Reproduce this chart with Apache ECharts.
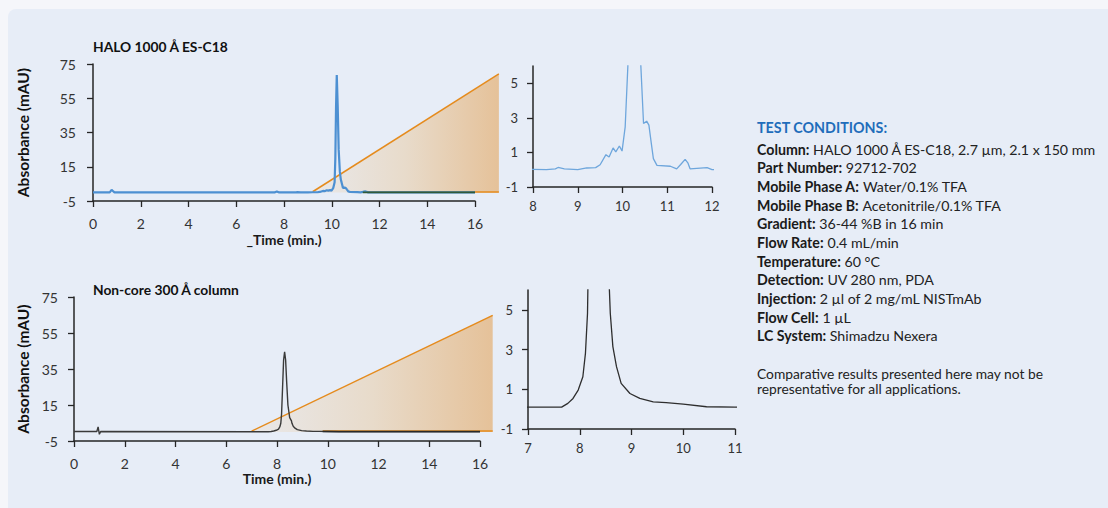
<!DOCTYPE html>
<html><head><meta charset="utf-8">
<script src="https://cdn.jsdelivr.net/npm/echarts@6/dist/echarts.min.js"></script>
<style>html,body{margin:0;padding:0;background:#f5f6fa;}#c{width:1108px;height:508px;}</style>
</head><body><div id="c"></div>
<script>
// ---------- data ----------
const topTime = [0, 0.7, 0.78, 0.82, 0.9, 7.6, 7.7, 7.8, 8.0, 8.3, 8.5, 8.56, 8.7, 9.0, 9.2, 9.4, 9.5, 9.63, 9.7, 9.79, 9.85, 9.93, 9.99, 10.06, 10.12, 10.15, 10.18, 10.21, 10.25, 10.29, 10.34, 10.38, 10.41, 10.47, 10.54, 10.59, 10.64, 10.69, 10.77, 11.07, 11.21, 11.3, 11.4, 11.46, 11.51, 11.89, 12.0, 16];
const topAbs  = [0, 0, 1.5, 1.0, 0, 0, 0.6, 0, 0.02, 0.0, 0.05, 0.13, 0.05, 0.0, 0.1, 0.12, 0.29, 0.87, 0.73, 1.26, 1.03, 1.37, 1.08, 2.48, 6, 20, 50, 68.6, 50, 25, 12, 7.5, 6, 2.67, 2.81, 2.58, 1.6, 0.64, 0.25, 0.2, 0.05, 0.3, 0.6, 0.4, 0.05, 0.12, 0.0, 0.0];

const bottomTime = [0, 0.9, 0.95, 0.98, 1.0, 1.05, 7.0, 7.65, 7.77, 7.87, 7.97, 8.06, 8.11, 8.15, 8.18, 8.22, 8.26, 8.3, 8.34, 8.38, 8.43, 8.5, 8.57, 8.59, 8.64, 8.71, 8.8, 8.97, 9.16, 9.42, 9.67, 10.0, 10.45, 11.0, 16];
const bottomAbs  = [0.3, 0.3, 2.8, 0.3, -1.3, 0.3, 0.1, 0.1, 0.29, 0.54, 0.96, 1.63, 2.81, 4.83, 10, 25, 40, 44.5, 40, 28, 15, 8, 6.2, 4.83, 3.15, 2.14, 1.3, 0.79, 0.54, 0.37, 0.33, 0.25, 0.12, 0.1, 0.1];

// gradient (%B) wedges
const topGradTime = [9.2, 17.0];
const topGradVal  = [0.4, 69.2];
const topEdgeTime = [11.3, 17.0];
const topEdgeVal  = [0.3, 0.3];
const topOverTime = [11.3, 16.0];
const topOverVal  = [0.0, 0.0];

const botGradTime = [7.0, 16.5];
const botGradVal  = [0.5, 64.8];
const botEdgeTime = [9.8, 16.5];
const botEdgeVal  = [0.6, 0.6];
const botOverTime = [9.8, 16.0];
const botOverVal  = [0.3, 0.3];

// ticks
const mainYTicks = [-5, 15, 35, 55, 75];
const mainXTicks = [0, 2, 4, 6, 8, 10, 12, 14, 16];
const insetYTicks = [-1, 1, 3, 5];
const topInsetXTicks = [8, 9, 10, 11, 12];
const botInsetXTicks = [7, 8, 9, 10, 11];

// texts
const topTitle = 'HALO 1000 Å ES-C18';
const bottomTitle = 'Non-core 300 Å column';
const yName = 'Absorbance (mAU)';
const topXName = '_Time (min.)';
const bottomXName = 'Time (min.)';
const condHeader = 'TEST CONDITIONS:';
const condLabels = ['Column:', 'Part Number:', 'Mobile Phase A:', 'Mobile Phase B:', 'Gradient:', 'Flow Rate:', 'Temperature:', 'Detection:', 'Injection:', 'Flow Cell:', 'LC System:'];
const condValues = ['HALO 1000 Å ES-C18, 2.7 µm, 2.1 x 150 mm', '92712-702', 'Water/0.1% TFA', 'Acetonitrile/0.1% TFA', '36-44 %B in 16 min', '0.4 mL/min', '60 °C', 'UV 280 nm, PDA', '2 µl of 2 mg/mL NISTmAb', '1 µL', 'Shimadzu Nexera'];
const noteLines = ['Comparative results presented here may not be', 'representative for all applications.'];

// ---------- chart ----------
const zip = (a, b) => a.map((v, i) => [v, b[i]]);
const FONT = 'Lato';
const AX = '#262626';

function xAx(gi, min, max, interval, ticks, margin, name, gap, fs) {
  return {
    type: 'value', gridIndex: gi, min, max, interval,
    axisLine: { show: true, onZero: false, lineStyle: { color: AX, width: 1.5 } },
    axisTick: { show: true, length: 6, customValues: ticks, lineStyle: { color: AX, width: 1.3 } },
    axisLabel: { margin, fontSize: fs || 14, color: '#333', fontFamily: FONT, customValues: ticks },
    splitLine: { show: false },
    name: name || '', nameLocation: 'middle', nameGap: gap || 0,
    nameTextStyle: { fontSize: 14, fontWeight: 'bold', color: '#1a1a1a', fontFamily: FONT }
  };
}
function yAx(gi, min, max, interval, ticks, margin, name, gap, fs) {
  return {
    type: 'value', gridIndex: gi, min, max, interval,
    axisLine: { show: true, onZero: false, lineStyle: { color: AX, width: 1.5 } },
    axisTick: { show: true, length: 6, customValues: ticks, lineStyle: { color: AX, width: 1.3 } },
    axisLabel: { margin, fontSize: fs || 14, color: '#333', fontFamily: FONT, customValues: ticks },
    splitLine: { show: false },
    name: name || '', nameLocation: 'middle', nameGap: gap || 0, nameRotate: 90,
    nameTextStyle: { fontSize: 15.5, fontWeight: 'bold', color: '#111', fontFamily: FONT }
  };
}
function hidden(gi, min, max) { return { type: 'value', gridIndex: gi, min, max, show: false }; }

const wedgeFill = {
  type: 'linear', x: 0, y: 0, x2: 1, y2: 0,
  colorStops: [
    { offset: 0, color: 'rgba(233,232,233,0.95)' },
    { offset: 0.5, color: 'rgba(232,218,200,0.95)' },
    { offset: 1, color: 'rgba(229,192,150,0.97)' }
  ]
};
const ORANGE = '#e58b1d';

function line(xi, data, color, width, z) {
  return { type: 'line', xAxisIndex: xi, yAxisIndex: xi, data, showSymbol: false, symbol: 'none',
    lineStyle: { color, width }, z, silent: true, animation: false };
}

const series = [
  // top main: wedge on extended hidden grid 4
  Object.assign(line(4, zip(topGradTime, topGradVal), ORANGE, 1.5, 1), { areaStyle: { color: wedgeFill, origin: 0, opacity: 1 } }),
  line(4, zip(topEdgeTime, topEdgeVal), ORANGE, 1.5, 2),
  line(0, zip(topTime, topAbs), '#4d90d2', 2.2, 3),
  line(0, zip(topOverTime, topOverVal), '#2f5a3a', 1.8, 4),
  // top inset
  line(1, zip(topTime, topAbs), '#6ea6dc', 1.3, 3),
  // bottom main: wedge on extended hidden grid 5
  Object.assign(line(5, zip(botGradTime, botGradVal), ORANGE, 1.5, 1), { areaStyle: { color: wedgeFill, origin: 0, opacity: 1 } }),
  line(5, zip(botEdgeTime, botEdgeVal), ORANGE, 1.5, 2),
  line(2, zip(bottomTime, bottomAbs), '#3a3a3a', 1.4, 3),
  line(2, zip(botOverTime, botOverVal), '#2a2a2a', 1.6, 4),
  // bottom inset
  line(3, zip(bottomTime, bottomAbs), '#2e2e2e', 1.3, 3)
];

const graphics = [
  { type: 'rect', shape: { x: 8, y: 9, width: 1110, height: 510, r: 8 }, style: { fill: '#e7edf7' }, z: -10, silent: true },
  { type: 'text', x: 93, y: 46, style: { text: topTitle, fontFamily: FONT, fontSize: 13.8, fontWeight: 'bold', fill: '#111', verticalAlign: 'middle' }, z: 10 },
  { type: 'text', x: 93, y: 289, style: { text: bottomTitle, fontFamily: FONT, fontSize: 13.8, fontWeight: 'bold', fill: '#111', verticalAlign: 'middle' }, z: 10 },
  { type: 'text', x: 757, y: 127, style: { text: condHeader, fontFamily: FONT, fontSize: 14.3, fontWeight: 'bold', fill: '#1f6dbb', verticalAlign: 'middle' }, z: 10 }
];
condLabels.forEach((lab, i) => {
  graphics.push({ type: 'text', x: 757, y: 149.3 + i * 18.64, z: 10, style: {
    text: '{b|' + lab + '} {r|' + condValues[i] + '}', verticalAlign: 'middle', fill: '#1a1a1a',
    fontFamily: FONT, fontSize: 14.2,
    rich: { b: { fontFamily: FONT, fontSize: 14.2, fontWeight: 'bold', fill: '#1a1a1a' },
            r: { fontFamily: FONT, fontSize: 14.2, fill: '#222' } } } });
});
noteLines.forEach((t, i) => {
  graphics.push({ type: 'text', x: 757, y: 373 + i * 15, z: 10, style: { text: t, fontFamily: FONT, fontSize: 13.8, fill: '#222', verticalAlign: 'middle' } });
});

const option = {
  backgroundColor: '#f5f6fa',
  animation: false,
  grid: [
    { left: 93, top: 64, width: 382, height: 137 },
    { left: 533, top: 66, width: 179, height: 121 },
    { left: 74, top: 297, width: 406, height: 144 },
    { left: 528, top: 290, width: 207, height: 139 },
    { left: 93, top: 64, width: 382 * 17 / 16, height: 137 },
    { left: 74, top: 297, width: 406 * 16.5 / 16, height: 144 }
  ],
  xAxis: [
    xAx(0, 0, 16, 2, mainXTicks, 15, topXName, 31),
    xAx(1, 8, 12, 1, topInsetXTicks, 12, '', 0, 13),
    xAx(2, 0, 16, 2, mainXTicks, 15, bottomXName, 30),
    xAx(3, 7, 11, 1, botInsetXTicks, 12, '', 0, 13),
    hidden(4, 0, 17),
    hidden(5, 0, 16.5)
  ],
  yAxis: [
    yAx(0, -5, 75, 20, mainYTicks, 17, yName, 62),
    yAx(1, -1, 6, 2, insetYTicks, 15, '', 0, 13),
    yAx(2, -5, 75, 20, mainYTicks, 16, yName, 43),
    yAx(3, -1, 6, 2, insetYTicks, 15, '', 0, 13),
    hidden(4, -5, 75),
    hidden(5, -5, 75)
  ],
  series,
  graphic: graphics
};

const chart = echarts.init(document.getElementById('c'), null, { renderer: 'svg' });
chart.setOption(option);
</script>
</body></html>
